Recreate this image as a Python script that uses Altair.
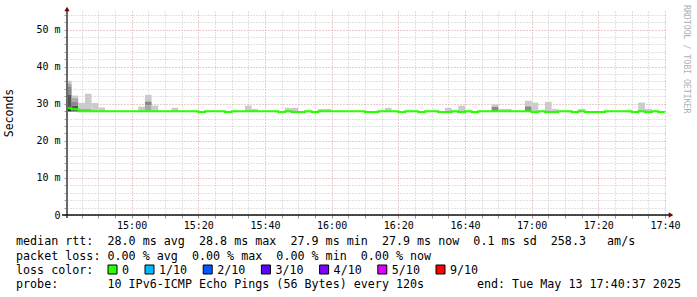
import altair as alt
import pandas as pd

MONO = "DejaVu Sans Mono"

# ---------------- data ----------------
# median RTT (ms) per 120 s bucket, buckets start 2025-05-13 14:40:00 (UTC-less wall clock)
median_rtt = [
    28.8, 28.5, 28.0, 28.0, 28.0, 28.0, 28.0, 28.0, 28.0, 28.0,
    28.0, 28.0, 28.0, 28.0, 28.0, 28.0, 28.0, 28.0, 28.0, 28.0,
    27.75, 28.0, 28.0, 28.0, 27.75, 28.0, 28.0, 28.0, 28.0, 28.0,
    28.0, 28.0, 27.75, 28.0, 27.75, 27.75, 28.0, 27.75, 28.0, 28.0,
    28.0, 28.0, 28.0, 28.0, 28.0, 27.75, 27.75, 28.0, 28.0, 28.0,
    27.75, 28.0, 28.0, 27.75, 28.0, 28.0, 27.75, 27.75, 28.0, 27.75,
    28.0, 27.75, 28.0, 28.0, 28.0, 28.0, 28.0, 28.0, 28.0, 28.0,
    27.75, 28.0, 27.75, 27.75, 28.0, 28.0, 27.75, 28.0, 27.75, 27.75,
    27.75, 28.0, 28.0, 28.0, 28.0, 27.75, 28.0, 27.75, 28.0, 27.75,
]

# smoke bands: bucket index, low / high (ms), density level (1 light .. 5 dark)
smoke_bucket = [0, 0, 0, 0, 0, 1, 1, 1, 1, 2, 2, 3, 3, 4, 5, 11, 12, 12, 12, 13, 16,
                27, 28, 33, 34, 38, 39, 48, 57, 59, 64, 64, 65, 66, 69, 69, 70, 72, 73,
                77, 86, 87]
smoke_lo = [35.5, 34.7, 32.4, 29.3, 27.9, 31.5, 30.6, 29.5, 27.9, 28.6, 27.9, 28.6, 27.9,
            27.9, 27.9, 27.9, 30.6, 29.5, 27.9, 27.9, 27.9,
            27.9, 27.9, 27.9, 27.9, 27.9, 27.9, 27.9, 27.9, 27.9, 29.2, 27.9, 27.9, 27.9,
            29.3, 27.9, 27.9, 27.9, 27.9, 27.9, 27.9, 27.9]
smoke_hi = [36.2, 35.5, 34.7, 32.4, 29.3, 32.2, 31.5, 30.6, 29.5, 30.2, 28.6, 32.7, 28.6,
            30.2, 29.0, 29.2, 32.4, 30.6, 29.5, 29.5, 28.9,
            29.5, 28.6, 28.9, 28.9, 28.6, 28.6, 28.9, 28.9, 29.5, 29.8, 29.2, 28.6, 28.6,
            30.8, 29.3, 30.3, 30.5, 28.6, 28.6, 30.3, 28.6]
smoke_level = [1, 2, 3, 4, 5, 1, 2, 3, 4, 1, 2, 1, 2, 1, 1, 1, 1, 3, 2, 1, 1,
               1, 1, 1, 1, 1, 1, 1, 1, 1, 1, 3, 1, 1, 1, 3, 1, 1, 1, 1, 1, 1]

loss_labels = ["0", "1/10", "2/10", "3/10", "4/10", "5/10", "9/10"]
loss_colors = ["#26ff00", "#00b8ff", "#0059ff", "#5e00ff", "#7e00ff", "#dd00ff", "#ff0000"]

legend_lines = [
    "median rtt:  28.0 ms avg  28.8 ms max  27.9 ms min  27.9 ms now  0.1 ms sd  258.3   am/s",
    "packet loss: 0.00 % avg  0.00 % max  0.00 % min  0.00 % now",
    "loss color:",
    "probe:       10 IPv6-ICMP Echo Pings (56 Bytes) every 120s",
]
end_text = "end: Tue May 13 17:40:37 2025"
y_title = "Seconds"
watermark = "RRDTOOL / TOBI OETIKER"

# ---------------- layout ----------------
OX, OY = 67, 11          # plot origin in page pixels
W, H = 600, 204
SHADES = ["#cbcbcb", "#a8a8a8", "#8a8a8a", "#555555", "#2a2a2a"]
MAJOR_COL = "#d49c9c"
MINOR_COL = "#c4c4c4"


def nb(s):
    return s.replace(" ", "\u00a0")


def iso(ts):
    return ts.strftime("%Y-%m-%dT%H:%M:%SZ")


t_base = pd.Timestamp("2025-05-13 14:40:00")
starts = [iso(t_base + pd.Timedelta(minutes=2 * k)) for k in range(len(median_rtt) + 1)]

med_df = pd.DataFrame({"t": starts, "v": median_rtt + [median_rtt[-1]]})
smoke_df = pd.DataFrame({
    "t0": [starts[k] for k in smoke_bucket],
    "t1": [starts[k + 1] for k in smoke_bucket],
    "lo": smoke_lo, "hi": smoke_hi, "lvl": smoke_level,
})


def dt(h, m, s=0):
    return alt.DateTime(year=2025, month=5, date=13, hours=h, minutes=m, seconds=s, utc=True)


x_dom = [dt(14, 40, 37), dt(17, 40, 37)]
x_ticks = [dt(m // 60, m % 60) for m in range(14 * 60 + 45, 17 * 60 + 41, 5)]
y_ticks = list(range(0, 56, 2))

x_axis = alt.Axis(
    values=x_ticks, title=None, domain=False, grid=True,
    gridColor={"condition": {"test": "utcminutes(datum.value) % 20 == 0", "value": MAJOR_COL},
               "value": MINOR_COL},
    gridDash=[1, 2], gridWidth=1,
    ticks=True, tickSize=3, tickColor="#9a9a9a",
    labelExpr="utcminutes(datum.value) % 20 == 0 ? utcFormat(datum.value, '%H:%M') : ''",
    labelFont=MONO, labelFontSize=10, labelColor="#000000", labelPadding=2,
    labelOverlap=False, labelFlush=False,
)
y_axis = alt.Axis(
    values=y_ticks, title=None, domain=False, grid=True,
    gridColor={"condition": {"test": "datum.value % 10 == 0", "value": MAJOR_COL},
               "value": MINOR_COL},
    gridDash=[1, 2], gridWidth=1,
    ticks=True, tickSize=3, tickColor="#9a9a9a",
    labelExpr="datum.value % 10 == 0 ? (datum.value == 0 ? '0\u00a0\u00a0' : datum.value + ' m') : ''",
    labelFont=MONO, labelFontSize=10, labelColor="#000000", labelPadding=4,
    labelOverlap=False, labelFlush=False,
)

x_scale = alt.Scale(type="utc", domain=x_dom)
y_scale = alt.Scale(domain=[0, 55], nice=False, zero=True)

smoke = alt.Chart(smoke_df).mark_rect(clip=True).encode(
    x=alt.X("t0:T", scale=x_scale, axis=x_axis),
    x2="t1:T",
    y=alt.Y("lo:Q", scale=y_scale, axis=y_axis),
    y2="hi:Q",
    color=alt.Color("lvl:O", scale=alt.Scale(domain=[1, 2, 3, 4, 5], range=SHADES), legend=None),
)

median = alt.Chart(med_df).mark_line(
    interpolate="step-after", color="#26ff00", strokeWidth=2, clip=True
).encode(
    x=alt.X("t:T", scale=x_scale, axis=None),
    y=alt.Y("v:Q", scale=y_scale, axis=None),
)


def px(v):
    return alt.X(v, scale=None, axis=None)


def py(v):
    return alt.Y(v, scale=None, axis=None)


# axis lines
axes_df = pd.DataFrame({
    "x": [0 - 0, 62 - OX], "x2": [0, 672 - OX],
    "y": [9 - OY, 215 - OY], "y2": [218 - OY, 215 - OY],
    "c": ["#6a6a6a", "#111111"], "w": [2, 1.5],
})
axis_lines = alt.Chart(axes_df).mark_rule().encode(
    x=px("x:Q"), x2="x2:Q", y=py("y:Q"), y2="y2:Q",
    color=alt.Color("c:N", scale=None), strokeWidth=alt.StrokeWidth("w:Q", scale=None),
)

arrow_df = pd.DataFrame({"x": [67 - OX, 671 - OX], "y": [9 - OY, 215 - OY],
                         "s": ["triangle-up", "triangle-right"]})
arrows = alt.Chart(arrow_df).mark_point(filled=True, size=28, color="#7f0000", opacity=1).encode(
    x=px("x:Q"), y=py("y:Q"), shape=alt.Shape("s:N", scale=None),
)

lines_df = pd.DataFrame({
    "x": [16 - OX] * len(legend_lines),
    "y": [y - OY for y in (241, 256, 269.5, 284)],
    "txt": [nb(s) for s in legend_lines],
})
text_left = alt.Chart(lines_df).mark_text(
    align="left", baseline="middle", font=MONO, fontSize=11.7, color="#000000"
).encode(x=px("x:Q"), y=py("y:Q"), text="txt:N")

end_df = pd.DataFrame({"x": [681 - OX], "y": [284 - OY], "txt": [nb(end_text)]})
text_right = alt.Chart(end_df).mark_text(
    align="right", baseline="middle", font=MONO, fontSize=11.7, color="#000000"
).encode(x=px("x:Q"), y=py("y:Q"), text="txt:N")

ttl_df = pd.DataFrame({"x": [10 - OX], "y": [113 - OY], "txt": [y_title]})
seconds = alt.Chart(ttl_df).mark_text(
    align="center", baseline="middle", angle=270, font=MONO, fontSize=11.5, color="#000000"
).encode(x=px("x:Q"), y=py("y:Q"), text="txt:N")

wm_df = pd.DataFrame({"x": [686 - OX], "y": [5 - OY], "txt": [nb(watermark)]})
wm = alt.Chart(wm_df).mark_text(
    align="left", baseline="middle", angle=90, font=MONO, fontSize=8.2, color="#b0b0b0"
).encode(x=px("x:Q"), y=py("y:Q"), text="txt:N")

sq_left = [108] + [145 + 58.2 * j for j in range(len(loss_labels) - 1)]
leg_df = pd.DataFrame({
    "x": [l + 4.5 - OX for l in sq_left],
    "lx": [l + 14 - OX for l in sq_left],
    "y": [269.5 - OY] * len(loss_labels),
    "lab": loss_labels, "col": loss_colors,
})
leg_sq = alt.Chart(leg_df).mark_point(
    shape="square", filled=True, size=81, stroke="#000000", strokeWidth=1, opacity=1
).encode(x=px("x:Q"), y=py("y:Q"), fill=alt.Fill("col:N", scale=None))
leg_lbl = alt.Chart(leg_df).mark_text(
    align="left", baseline="middle", font=MONO, fontSize=11.7, color="#000000"
).encode(x=px("lx:Q"), y=py("y:Q"), text="lab:N")

chart = alt.layer(
    smoke, median, axis_lines, arrows, text_left, text_right, seconds, wm, leg_sq, leg_lbl
).resolve_scale(
    x="independent", y="independent", color="independent"
).properties(
    width=W, height=H,
    padding={"left": OX, "top": OY, "right": 697 - OX - W, "bottom": 297 - OY - H},
    autosize=alt.AutoSizeParams(type="none"),
    background="#ffffff",
).configure_view(strokeWidth=0)

chart.save("out.html", embed_options={"renderer": "svg", "actions": False})
